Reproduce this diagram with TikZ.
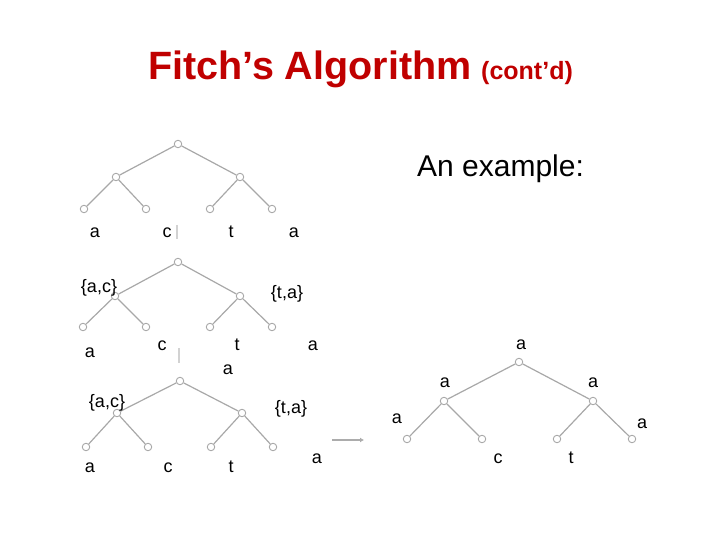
\documentclass[tikz,border=0pt]{standalone}
\usepackage{fontspec}
\setmainfont{Liberation Sans}
\usepackage{xcolor}
\definecolor{rojoTitulo}{HTML}{C00000}
\definecolor{grisArista}{HTML}{A8A8A8}
\usetikzlibrary{arrows.meta}

\begin{document}
\begin{tikzpicture}[x=1pt,y=-1pt,
  vert/.style={circle,draw=grisArista,fill=white,inner sep=0pt,minimum size=7.5pt,line width=0.9pt},
  edge/.style={draw=grisArista,line width=1.2pt},
  lbl/.style={anchor=base,inner sep=0pt,font=\fontsize{18}{20}\selectfont},
  faded/.style={draw=gray!35,line width=1.6pt},
  arr/.style={-{Latex[length=4pt,width=5pt]},draw=gray!65,line width=2.5pt}]
  \useasboundingbox (0,0) rectangle (720,540);
  % title
  \node[anchor=base west,inner sep=0pt,text=rojoTitulo,font=\bfseries\fontsize{39.5}{44}\selectfont] (title) at (148,80) {Fitch’s Algorithm};
  \node[anchor=base west,inner sep=0pt,text=rojoTitulo,font=\bfseries\fontsize{25}{30}\selectfont] (contd) at (481,80) {(cont’d)};
  \node[anchor=base west,inner sep=0pt,font=\fontsize{30}{34}\selectfont] (example) at (417,177) {An example:};
  % tree 1: leaves only
  \node[vert] (r1) at (178,144) {};
  \node[vert] (p1) at (116,177) {};
  \node[vert] (q1) at (240,177) {};
  \node[vert] (a1) at (84,209) {};
  \node[vert] (b1) at (146,209) {};
  \node[vert] (c1) at (210,209) {};
  \node[vert] (d1) at (272,209) {};
  \draw[edge] (r1)--(p1) (r1)--(q1) (p1)--(a1) (p1)--(b1) (q1)--(c1) (q1)--(d1);
  \node[lbl] (la1) at (95,237) {a};
  \node[lbl] (lb1) at (167,237) {c};
  \node[lbl] (lc1) at (231,237) {t};
  \node[lbl] (ld1) at (294,237) {a};
  \coordinate (bar1a) at (177,225);
  \coordinate (bar1b) at (177,239);
  \draw[faded] (bar1a)--(bar1b);
  % tree 2: first pass
  \node[vert] (r2) at (178,262) {};
  \node[vert] (p2) at (115,296) {};
  \node[vert] (q2) at (240,296) {};
  \node[vert] (a2) at (83,327) {};
  \node[vert] (b2) at (146,327) {};
  \node[vert] (c2) at (210,327) {};
  \node[vert] (d2) at (272,327) {};
  \draw[edge] (r2)--(p2) (r2)--(q2) (p2)--(a2) (p2)--(b2) (q2)--(c2) (q2)--(d2);
  \node[lbl] (sp2) at (99,292) {\{a,c\}};
  \node[lbl] (sq2) at (287,298) {\{t,a\}};
  \node[lbl] (la2) at (90,357) {a};
  \node[lbl] (lb2) at (162,350) {c};
  \node[lbl] (lc2) at (237,350) {t};
  \node[lbl] (ld2) at (313,350) {a};
  \node[lbl] (sr2) at (228,374) {a};
  \coordinate (bar2a) at (179,348);
  \coordinate (bar2b) at (179,363);
  \draw[faded] (bar2a)--(bar2b);
  % tree 3: root chosen
  \node[vert] (r3) at (180,381) {};
  \node[vert] (p3) at (117,413) {};
  \node[vert] (q3) at (242,413) {};
  \node[vert] (a3) at (86,447) {};
  \node[vert] (b3) at (148,447) {};
  \node[vert] (c3) at (211,447) {};
  \node[vert] (d3) at (273,447) {};
  \draw[edge] (r3)--(p3) (r3)--(q3) (p3)--(a3) (p3)--(b3) (q3)--(c3) (q3)--(d3);
  \node[lbl] (sp3) at (107,407) {\{a,c\}};
  \node[lbl] (sq3) at (291,413) {\{t,a\}};
  \node[lbl] (la3) at (90,472) {a};
  \node[lbl] (lb3) at (168,472) {c};
  \node[lbl] (lc3) at (231,472) {t};
  \node[lbl] (ld3) at (317,463) {a};
  \coordinate (flecha1) at (332,440);
  \coordinate (flecha2) at (364,440);
  \draw[arr] (flecha1)--(flecha2);
  % tree 4: final labelling
  \node[vert] (r4) at (519,362) {};
  \node[vert] (p4) at (444,401) {};
  \node[vert] (q4) at (593,401) {};
  \node[vert] (a4) at (407,439) {};
  \node[vert] (b4) at (482,439) {};
  \node[vert] (c4) at (557,439) {};
  \node[vert] (d4) at (632,439) {};
  \draw[edge] (r4)--(p4) (r4)--(q4) (p4)--(a4) (p4)--(b4) (q4)--(c4) (q4)--(d4);
  \node[lbl] (sr4) at (521,349) {a};
  \node[lbl] (sp4) at (445,387) {a};
  \node[lbl] (sq4) at (593,387) {a};
  \node[lbl] (la4) at (397,423) {a};
  \node[lbl] (ld4) at (642,428) {a};
  \node[lbl] (lb4) at (498,463) {c};
  \node[lbl] (lc4) at (571,463) {t};
\end{tikzpicture}
\end{document}
